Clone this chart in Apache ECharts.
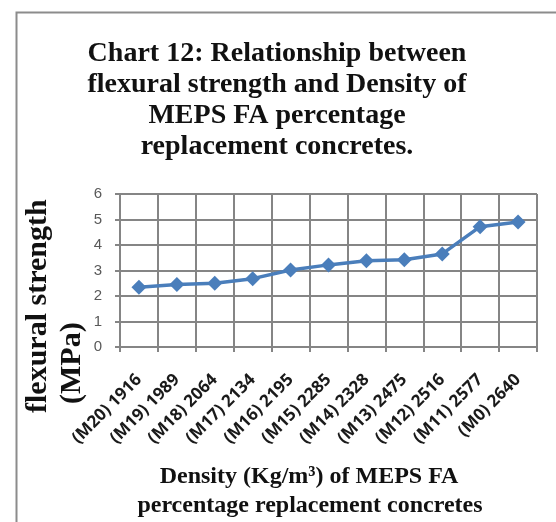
<!DOCTYPE html>
<html>
<head>
<meta charset="utf-8">
<script src="https://cdn.jsdelivr.net/npm/echarts@6/dist/echarts.min.js"></script>
<style>
  html, body { margin: 0; padding: 0; background: #fff; }
  #chart { width: 556px; height: 522px; }
</style>
</head>
<body>
<div id="chart"></div>
<script>
// Mix labels (density in kg/m3) and measured flexural strength in MPa
const categories = ['(M20) 1916', '(M19) 1989', '(M18) 2064', '(M17) 2134', '(M16) 2195',
  '(M15) 2285', '(M14) 2328', '(M13) 2475', '(M12) 2516', '(M11) 2577', '(M0) 2640'];
const flexuralStrength = [2.34, 2.45, 2.5, 2.68, 3.02, 3.22, 3.38, 3.42, 3.65, 4.72, 4.9];
const yTicks = [0, 1, 2, 3, 4, 5, 6];

const serif = '"Liberation Serif", "DejaVu Serif", serif';
const gridColor = '#858585';

const chart = echarts.init(document.getElementById('chart'), null, { renderer: 'canvas' });
chart.setOption({
  animation: false,
  backgroundColor: '#fff',
  title: {
    text: 'Chart 12: Relationship between\nflexural strength and Density of\nMEPS FA percentage\nreplacement concretes.',
    left: 272,
    top: 33,
    textAlign: 'center',
    textStyle: {
      fontFamily: serif, fontWeight: 'bold', fontSize: 28, lineHeight: 31, color: '#111'
    }
  },
  graphic: [
    {
      type: 'rect', left: 14, top: 10, silent: true,
      shape: { width: 560, height: 530 },
      style: { fill: 'none', stroke: '#8c8c8c', lineWidth: 2 }
    },
    {
      type: 'text', x: 38, y: 413, rotation: Math.PI / 2,
      style: {
        text: 'flexural strength', fontFamily: serif, fontWeight: 'bold', fontSize: 30,
        fill: '#111', textAlign: 'left', textVerticalAlign: 'middle'
      }
    },
    {
      type: 'text', x: 72, y: 404, rotation: Math.PI / 2,
      style: {
        text: '(MPa)', fontFamily: serif, fontWeight: 'bold', fontSize: 30,
        fill: '#111', textAlign: 'left', textVerticalAlign: 'middle'
      }
    },
    {
      type: 'text', x: 309, y: 477,
      style: {
        text: 'Density (Kg/m\u00B3) of MEPS FA', fontFamily: serif, fontWeight: 'bold', fontSize: 24,
        fill: '#111', textAlign: 'center', textVerticalAlign: 'middle'
      }
    },
    {
      type: 'text', x: 310, y: 506,
      style: {
        text: 'percentage replacement concretes', fontFamily: serif, fontWeight: 'bold', fontSize: 24,
        fill: '#111', textAlign: 'center', textVerticalAlign: 'middle'
      }
    }
  ],
  grid: { left: 120, right: 19, top: 194, bottom: 175, containLabel: false },
  xAxis: {
    type: 'category',
    data: categories,
    boundaryGap: true,
    axisLine: { lineStyle: { color: gridColor, width: 2 } },
    axisTick: { show: true, length: 5, lineStyle: { color: gridColor, width: 2 } },
    splitLine: { show: true, lineStyle: { color: gridColor, width: 2 } },
    axisLabel: {
      interval: 0, rotate: 45, margin: 30,
      fontFamily: '"Open Sans", "Liberation Sans", sans-serif', fontSize: 17,
      fontWeight: 'bold', color: '#1a1a1a'
    }
  },
  yAxis: {
    type: 'value',
    min: yTicks[0], max: yTicks[yTicks.length - 1], interval: 1,
    axisLine: { show: true, lineStyle: { color: gridColor, width: 2 } },
    axisTick: { show: true, length: 5, lineStyle: { color: gridColor, width: 2 } },
    splitLine: { show: true, lineStyle: { color: gridColor, width: 2 } },
    axisLabel: {
      margin: 18, fontFamily: '"Liberation Sans", sans-serif', fontSize: 15, color: '#595959'
    }
  },
  series: [{
    type: 'line',
    data: flexuralStrength,
    symbol: 'diamond',
    symbolSize: 15,
    lineStyle: { color: '#4a7ebb', width: 3.5 },
    itemStyle: { color: '#4a7ebb' }
  }]
});
</script>
</body>
</html>
